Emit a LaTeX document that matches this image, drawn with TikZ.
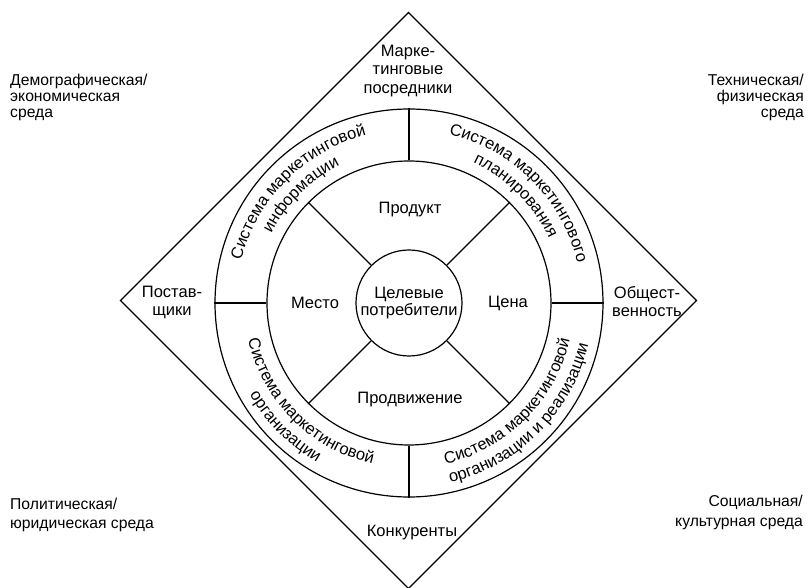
\documentclass[tikz,border=0pt]{standalone}
\usepackage{fontspec}
\setmainfont{Liberation Sans}
\usetikzlibrary{decorations.text}
\newcommand\lblfont{\fontsize{16.5}{18}\selectfont}
\newcommand\ringfont{\fontsize{16.5}{18}\selectfont}
\begin{document}
\begin{tikzpicture}[x=1pt,y=1pt,
  ln/.style={line width=1.2pt},
  lbl/.style={font=\lblfont, align=center, inner sep=0pt},
  corner/.style={inner sep=0pt},
  ringtext/.style={decorate, decoration={text along path, text align=center, text={|\ringfont|#1}}}]
\useasboundingbox (-409,-285) rectangle (402,303);
\fill[white] (-409,-285) rectangle (402,303);
% diamond
\coordinate (dT) at (-0.5,290.5);
\coordinate (dR) at (287.5,2.5);
\coordinate (dB) at (-0.5,-285.5);
\coordinate (dL) at (-288.5,2.5);
\draw[ln, line join=miter] (dT) -- (dR) -- (dB) -- (dL) -- cycle;
% circles
\node[circle, draw, ln, minimum size=388pt, inner sep=0pt] (ring) at (0,0) {};
\node[circle, draw, ln, minimum size=284pt, inner sep=0pt] (mix) at (0,0) {};
\node[circle, draw, ln, minimum size=106pt, inner sep=0pt, font=\fontsize{16.5}{17}\selectfont, align=center] (core) at (0,0) {Целевые\\потребители};
% spokes
\foreach \a in {45,135,225,315} \draw[ln] (core.\a) -- (mix.\a);
\foreach \a in {0,90,180,270} \draw[ln] (mix.\a) -- (ring.\a);
% 4P labels
\node[lbl] (prod) at (1,93) {Продукт};
\node[lbl] (place) at (-94,0) {Место};
\node[lbl] (price) at (99,0) {Цена};
\node[lbl] (promo) at (1,-97) {Продвижение};
% ring texts
\path[ringtext={Система маркетинговой}] (180:173pt) arc[start angle=180, end angle=90, radius=173pt];
\path[ringtext={информации}] (180:154pt) arc[start angle=180, end angle=90, radius=154pt];
\path[ringtext={Система маркетингового}] (90:173pt) arc[start angle=90, end angle=0, radius=173pt];
\path[ringtext={планирования}] (90:154pt) arc[start angle=90, end angle=0, radius=154pt];
\path[ringtext={Система маркетинговой}] (180:165pt) arc[start angle=180, end angle=270, radius=165pt];
\path[ringtext={организации}] (180:184pt) arc[start angle=180, end angle=270, radius=184pt];
\path[ringtext={Система маркетинговой}] (270:165pt) arc[start angle=270, end angle=360, radius=165pt];
\path[ringtext={организации и реализации}] (270:184pt) arc[start angle=270, end angle=360, radius=184pt];
% diamond labels
\node[lbl, font=\fontsize{16.5}{18.5}\selectfont] (inter) at (-1,232) {Марке-\\тинговые\\посредники};
\node[lbl] (supp) at (-237,0.5) {Постав-\\щики};
\node[lbl] (pub) at (238,1.5) {Общест-\\венность};
\node[lbl] (comp) at (3,-230) {Конкуренты};
% corner labels
\node[corner, anchor=west, align=left, font=\fontsize{15.7}{16}\selectfont] (demo) at (-399,205.5) {Демографическая/\\экономическая\\среда};
\node[corner, anchor=east, align=right, font=\fontsize{15.7}{16}\selectfont] (tech) at (395,206) {Техническая/\\физическая\\среда};
\node[corner, anchor=west, align=left, font=\fontsize{15.7}{19}\selectfont] (pol) at (-399,-212) {Политическая/\\юридическая среда};
\node[corner, anchor=east, align=right, font=\fontsize{15.7}{20}\selectfont] (soc) at (394,-209) {Социальная/\\культурная среда};
\end{tikzpicture}
\end{document}
